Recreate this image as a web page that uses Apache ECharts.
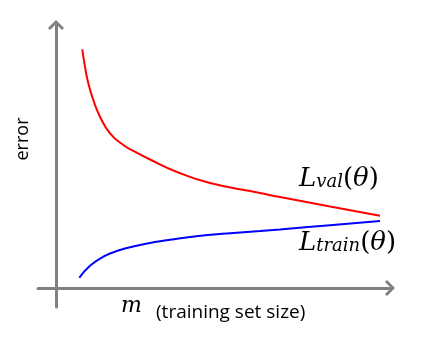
<!DOCTYPE html>
<html><head><meta charset="utf-8">
<script src="https://cdn.jsdelivr.net/npm/echarts@6/dist/echarts.min.js"></script>
<style>html,body{margin:0;padding:0;background:#fff}#c{width:423px;height:345px}</style>
</head><body><div id="c"></div>
<script>
// training set size m (arbitrary units) and error values
const mVal   = [26.3, 29, 32.3, 37.3, 44, 54, 67.3, 80.7, 94, 121, 154, 204, 224, 274, 324];
const valErr = [238.7, 221.3, 204.7, 188, 171.3, 154.7, 143, 135.3, 128.5, 116, 105, 95, 91, 81.5, 72.3];
const mTrain   = [23.3, 34, 47.3, 64, 80.7, 97.3, 114, 142.3, 171, 204, 224, 274, 324];
const trainErr = [10.3, 22.3, 31.3, 38, 42.3, 45.7, 48.3, 52, 54.5, 57, 58.6, 62.8, 67];
const labels = { y: 'error', m: 'm', x: '(training set size)', val: 'val', train: 'train', L: 'L' };

const chart = echarts.init(document.getElementById('c'));
const chev = 'path://M10,0 L20,10 L17.5,12.5 L10,5 L2.5,12.5 L0,10 Z';
const axisCommon = {
  axisLine: { onZero: true, lineStyle: { color: '#808080', width: 3 }, symbol: ['none', chev], symbolSize: [16, 13] },
  axisTick: { show: false }, axisLabel: { show: false }, splitLine: { show: false }
};
const mathRich = {
  L: { font: 'italic 26px "DejaVu Serif"', lineHeight: 34 },
  s: { font: 'italic 18px "DejaVu Serif"', lineHeight: 34, padding: [6, 0, 0, 0] },
  p: { font: '26px "DejaVu Serif"', lineHeight: 34 },
  t: { font: 'italic 26px "DejaVu Serif"', lineHeight: 34 }
};
chart.setOption({
  animation: false,
  grid: { left: 38, right: 33, top: 25, bottom: 38 },
  xAxis: Object.assign({ type: 'value', min: -18, max: 334 }, axisCommon),
  yAxis: Object.assign({ type: 'value', min: -19, max: 263 }, axisCommon),
  series: [
    { type: 'line', data: mVal.map((m, i) => [m, valErr[i]]), smooth: 0.5, showSymbol: false,
      lineStyle: { color: '#ff0000', width: 2 } },
    { type: 'line', data: mTrain.map((m, i) => [m, trainErr[i]]), smooth: 0.5, showSymbol: false,
      lineStyle: { color: '#0000ff', width: 2 } }
  ],
  graphic: [
    { type: 'text', x: 23, y: 139, rotation: Math.PI / 2,
      style: { text: labels.y, font: '18px "Open Sans"', fill: '#000', align: 'center', verticalAlign: 'middle' } },
    { type: 'text', x: 121, y: 317,
      style: { text: labels.m, font: 'italic 22px "DejaVu Serif"', fill: '#000', verticalAlign: 'bottom' } },
    { type: 'text', x: 156, y: 313,
      style: { text: labels.x, font: '19px "Open Sans"', fill: '#000', verticalAlign: 'middle' } },
    { type: 'text', x: 299, y: 196,
      style: { text: '{L|' + labels.L + '}{s|' + labels.val + '}{p|(}{t|θ}{p|)}', fill: '#000', verticalAlign: 'bottom', rich: mathRich } },
    { type: 'text', x: 299, y: 260,
      style: { text: '{L|' + labels.L + '}{s|' + labels.train + '}{p|(}{t|θ}{p|)}', fill: '#000', verticalAlign: 'bottom', rich: mathRich } }
  ]
});
</script></body></html>
